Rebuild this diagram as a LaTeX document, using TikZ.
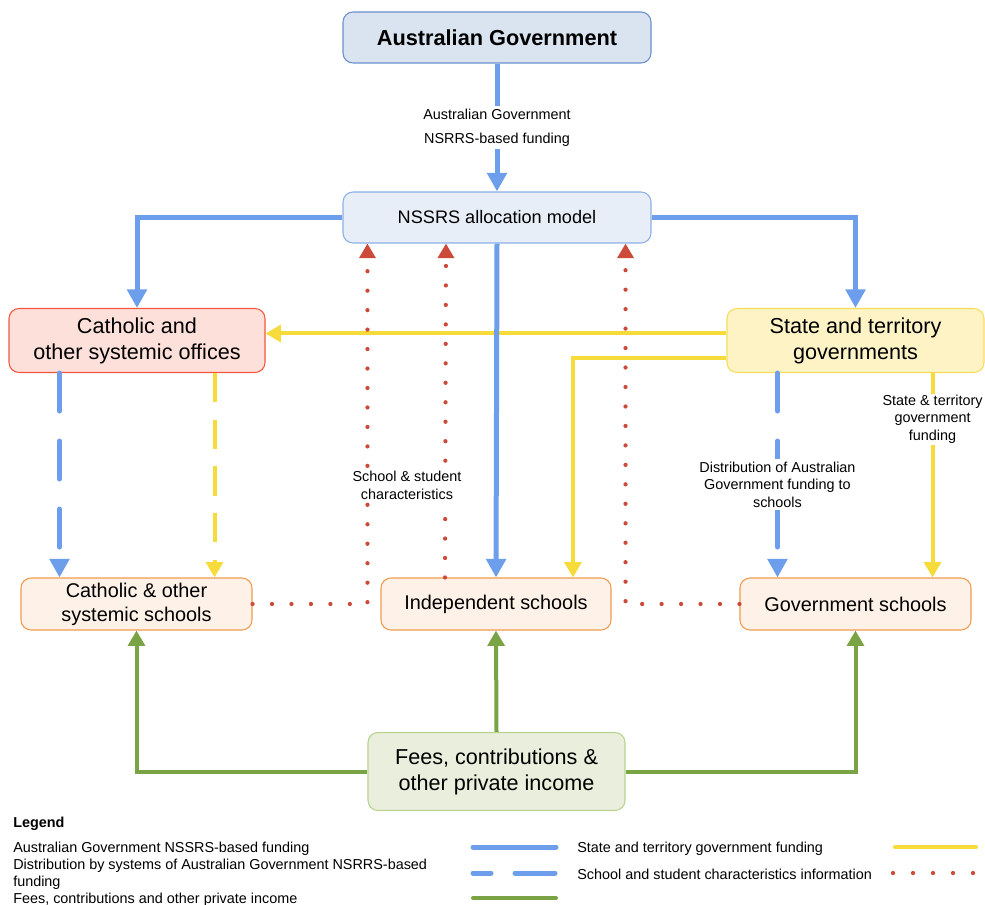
\documentclass[tikz,border=0pt]{standalone}
\usepackage{fontspec}
\setmainfont{Liberation Sans}
\usepackage{tikz}
\usetikzlibrary{arrows.meta}

\definecolor{agblue}{HTML}{6D9EEB}
\definecolor{styellow}{HTML}{F6DB3B}
\definecolor{infored}{HTML}{CC4A3A}
\definecolor{feegreen}{HTML}{7AA345}
\definecolor{agfill}{HTML}{DAE3F0}
\definecolor{agline}{HTML}{6A8FCB}
\definecolor{modelfill}{HTML}{E8EEF8}
\definecolor{modelline}{HTML}{8DB0E6}
\definecolor{officefill}{HTML}{FDE0D9}
\definecolor{officeline}{HTML}{F4563E}
\definecolor{statefill}{HTML}{FDF3C4}
\definecolor{stateline}{HTML}{F9DC5C}
\definecolor{schoolfill}{HTML}{FEF2E8}
\definecolor{schoolline}{HTML}{F19B4F}
\definecolor{feefill}{HTML}{E9EFDC}
\definecolor{feeline}{HTML}{B7D48E}

\begin{document}
\begin{tikzpicture}[x=0.75pt,y=-0.75pt]
  \useasboundingbox (0,0) rectangle (985,905);
  \tikzstyle{BoxStyle}=[rounded corners=7.5pt,line width=0.8pt,inner sep=0pt,align=center]
  \tikzstyle{BigText}=[font=\fontsize{16.2}{19.5}\selectfont]
  \tikzstyle{SchoolText}=[font=\fontsize{14.9}{18}\selectfont]
  \tikzstyle{LabelStyle}=[fill=white,inner sep=2pt,align=center,font=\fontsize{10.8}{13.1}\selectfont]
  \tikzstyle{LegendStyle}=[anchor=west,inner sep=0pt,align=left,font=\fontsize{10.8}{12.75}\selectfont]
  \tikzstyle{AGEdge}=[draw=agblue,line width=3.75pt,-{Triangle[width=14.5pt,length=14pt]}]
  \tikzstyle{DistEdge}=[AGEdge,line cap=round,dash pattern=on 28.5pt off 22.5pt]
  \tikzstyle{StateEdge}=[draw=styellow,line width=3pt,-{Triangle[width=12.5pt,length=11.5pt]}]
  \tikzstyle{StateDistEdge}=[StateEdge,dash pattern=on 22pt off 13pt]
  \tikzstyle{InfoEdge}=[draw=infored,line width=3.2pt,line cap=round,dash pattern=on 0pt off 14.6pt,-{Triangle[width=12pt,length=11pt]}]
  \tikzstyle{FeeEdge}=[draw=feegreen,line width=3pt,-{Triangle[width=12.5pt,length=11.5pt]}]

  % boxes
  \node[BoxStyle,draw=agline,fill=agfill,minimum width=231pt,minimum height=38.25pt,
        font=\fontsize{16.3}{19.5}\selectfont\bfseries] (ag) at (497,37.5) {Australian Government};
  \node[BoxStyle,draw=modelline,fill=modelfill,minimum width=231pt,minimum height=38.25pt,
        font=\fontsize{13.6}{16}\selectfont] (model) at (497,217.5) {NSSRS allocation model};
  \node[BoxStyle,BigText,draw=officeline,fill=officefill,minimum width=192pt,minimum height=48pt] (office) at (137,340.5) {Catholic and\\other systemic offices};
  \node[BoxStyle,BigText,draw=stateline,fill=statefill,minimum width=192.75pt,minimum height=48pt] (state) at (855.5,340.5) {State and territory\\governments};
  \node[BoxStyle,SchoolText,draw=schoolline,fill=schoolfill,minimum width=173.25pt,minimum height=39pt] (catsch) at (136.5,604) {Catholic \& other\\systemic schools};
  \node[BoxStyle,SchoolText,draw=schoolline,fill=schoolfill,minimum width=172.5pt,minimum height=39pt] (indsch) at (496,604) {Independent schools};
  \node[BoxStyle,SchoolText,draw=schoolline,fill=schoolfill,minimum width=173.25pt,minimum height=39pt] (govsch) at (855.5,604) {Government schools};
  \node[BoxStyle,BigText,draw=feeline,fill=feefill,minimum width=192.75pt,minimum height=58.5pt] (fees) at (496.5,771.5) {Fees, contributions \&\\other private income};

  % state and territory funding
  \draw[StateEdge] ([yshift=5.25pt]state.west) -- ([yshift=5.25pt]office.east);
  \draw[StateEdge] ([yshift=-13.5pt]state.west) -| ([xshift=57.75pt]indsch.north);
  \draw[StateDistEdge] ([xshift=-38.25pt]office.south east) -- ([xshift=-28.5pt]catsch.north east);
  \draw[StateEdge] ([xshift=-39pt]state.south east) -- node[LabelStyle,pos=0.226,inner sep=1pt] (stlabel) {State \& territory\\government\\funding} ([xshift=-29.25pt]govsch.north east);

  % school and student characteristics
  \draw[InfoEdge] (catsch.east) -| ([xshift=18.75pt]model.south west);
  \draw[InfoEdge] ([xshift=-38.25pt]indsch.north) -- ([xshift=-38.25pt]model.south);
  \draw[InfoEdge] (govsch.west) -| ([xshift=-19.5pt]model.south east);
  \node[LabelStyle] (infolabel) at (407,485.5) {School \& student\\characteristics};

  % Australian Government funding
  \draw[AGEdge] (ag) -- node[LabelStyle,midway,font=\fontsize{10.8}{18}\selectfont] (aglabel) {Australian Government\\NSRRS-based funding} (model);
  \draw[AGEdge] (model.west) -| (office.north);
  \draw[AGEdge] (model.east) -| (state.north);
  \draw[AGEdge] (model.south) -- (indsch.north);
  \draw[DistEdge] ([xshift=38.25pt]office.south west) -- ([xshift=29.25pt]catsch.north west);
  \draw[DistEdge] ([xshift=38.25pt]state.south west) -- node[LabelStyle,pos=0.546] (distlabel) {Distribution of Australian\\Government funding to\\schools} ([xshift=28.5pt]govsch.north west);

  % private income
  \draw[FeeEdge] (fees.north) -- (indsch.south);
  \draw[FeeEdge] (fees.west) -| (catsch.south);
  \draw[FeeEdge] (fees.east) -| (govsch.south);

  % legend
  \node[LegendStyle,font=\fontsize{10.8}{12.75}\selectfont\bfseries] (legend) at (13,823.5) {Legend};
  \node[LegendStyle] (lgag) at (13,848.5) {Australian Government NSSRS-based funding};
  \node[LegendStyle] (lgdist) at (13,874) {Distribution by systems of Australian Government NSRRS-based\\funding};
  \node[LegendStyle] (lgfee) at (13,899.5) {Fees, contributions and other private income};
  \node[LegendStyle] (lgstate) at (577,848.5) {State and territory government funding};
  \node[LegendStyle] (lginfo) at (577,874.5) {School and student characteristics information};
  \draw[agblue,line width=3.75pt,line cap=round] (473,847) -- (556,847);
  \draw[agblue,line width=3.75pt,line cap=round] (473,873) -- (491,873) (515,873) -- (555,873);
  \draw[feegreen,line width=3pt,line cap=round] (473,898) -- (556,898);
  \draw[styellow,line width=3pt,line cap=round] (895,847) -- (976,847);
  \foreach \x in {893,913,...,973}
    \fill[infored] (\x,873) circle (1.6pt);
\end{tikzpicture}
\end{document}
